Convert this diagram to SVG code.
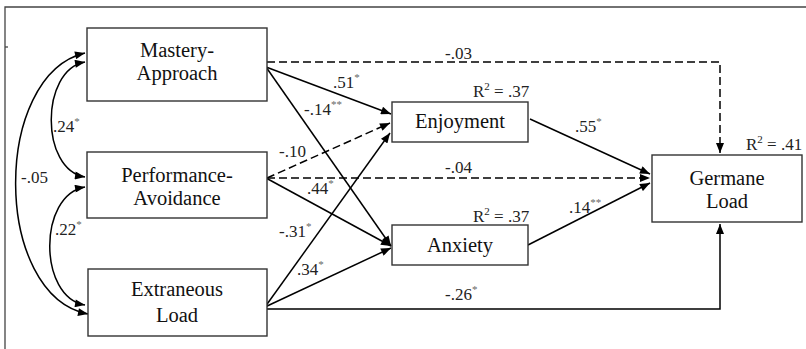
<svg xmlns="http://www.w3.org/2000/svg" width="806" height="349" viewBox="0 0 806 349">
<style>
.ff{font-family:'Liberation Serif',serif}
.box{fill:#fff;stroke:#333;stroke-width:1.4}
.nt{font-size:20.5px;fill:#111;text-anchor:middle}
.lb{font-size:17px;fill:#222}
.sup{font-size:11px;fill:#666}
.r2{font-size:11px}
.ln{fill:none;stroke:#000;stroke-width:1.5}
.ds{fill:none;stroke:#000;stroke-width:1.5;stroke-dasharray:8 4}
</style>
<defs>
<marker id="ah" viewBox="0 0 10 8" refX="10" refY="4" markerWidth="11" markerHeight="8" markerUnits="userSpaceOnUse" orient="auto-start-reverse">
<path d="M0,0 L10,4 L0,8 z" fill="#000"/>
</marker>
</defs>
<rect width="806" height="349" fill="#fff"/>
<g id="frame" fill="none" stroke="#444" stroke-width="1.3">
<path d="M5,349 V7 H806"/>
<path d="M5,47 H8"/>
</g>
<g id="connectors">
<path class="ds" d="M267,62 H720 V153" marker-end="url(#ah)"/>
<path class="ln" d="M266,67 L391,114" marker-end="url(#ah)"/>
<path class="ln" d="M266,67 L391,246" marker-end="url(#ah)"/>
<path class="ds" d="M267,178 L390,123" marker-end="url(#ah)"/>
<path class="ds" d="M267,178 H650" marker-end="url(#ah)"/>
<path class="ln" d="M266,178 L391,246" marker-end="url(#ah)"/>
<path class="ln" d="M265,307 L390,133" marker-end="url(#ah)"/>
<path class="ln" d="M265,307 L391,248" marker-end="url(#ah)"/>
<path class="ln" d="M265,309 H720 V224" marker-end="url(#ah)"/>
<path class="ln" d="M530,119 L650,174" marker-end="url(#ah)"/>
<path class="ln" d="M528,245 L650,183" marker-end="url(#ah)"/>
<path class="ln" d="M85,62 C40,70 40,170 85,177" marker-start="url(#ah)" marker-end="url(#ah)"/>
<path class="ln" d="M85,187 C38,195 38,297 85,305" marker-start="url(#ah)" marker-end="url(#ah)"/>
<path class="ln" d="M85,53 C-8,75 -8,295 88,314" marker-start="url(#ah)" marker-end="url(#ah)"/>
</g>
<g id="labels" font-family="'Liberation Serif', serif">
<text class="lb ff" x="445" y="59">-.03</text>
<text class="lb ff" x="333" y="88">.51<tspan class="sup" dy="-7">*</tspan></text>
<text class="lb ff" x="304" y="115">-.14<tspan class="sup" dy="-7">**</tspan></text>
<text class="lb ff" x="279" y="157">-.10</text>
<text class="lb ff" x="445" y="173">-.04</text>
<text class="lb ff" x="307" y="194">.44<tspan class="sup" dy="-7">*</tspan></text>
<text class="lb ff" x="279" y="237">-.31<tspan class="sup" dy="-7">*</tspan></text>
<text class="lb ff" x="297" y="275">.34<tspan class="sup" dy="-7">*</tspan></text>
<text class="lb ff" x="445" y="300">-.26<tspan class="sup" dy="-7">*</tspan></text>
<text class="lb ff" x="575" y="132">.55<tspan class="sup" dy="-7">*</tspan></text>
<text class="lb ff" x="569" y="213">.14<tspan class="sup" dy="-7">**</tspan></text>
<text class="lb ff" x="53" y="132">.24<tspan class="sup" dy="-7">*</tspan></text>
<text class="lb ff" x="55" y="235">.22<tspan class="sup" dy="-7">*</tspan></text>
<text class="lb ff" x="21" y="183">-.05</text>
<text class="lb ff" x="473" y="97">R<tspan class="r2" dy="-7">2</tspan><tspan dy="7"> = .37</tspan></text>
<text class="lb ff" x="473" y="222">R<tspan class="r2" dy="-7">2</tspan><tspan dy="7"> = .37</tspan></text>
<text class="lb ff" x="746" y="150">R<tspan class="r2" dy="-7">2</tspan><tspan dy="7"> = .41</tspan></text>
</g>
<g id="mastery" font-family="'Liberation Serif', serif">
<rect class="box" x="87" y="28" width="180" height="73"/>
<text class="nt ff" x="177" y="57">Mastery-</text>
<text class="nt ff" x="177" y="80">Approach</text>
</g>
<g id="performance" font-family="'Liberation Serif', serif">
<rect class="box" x="87" y="152" width="180" height="66"/>
<text class="nt ff" x="177" y="182">Performance-</text>
<text class="nt ff" x="177" y="205">Avoidance</text>
</g>
<g id="extraneous" font-family="'Liberation Serif', serif">
<rect class="box" x="88" y="269" width="179" height="67"/>
<text class="nt ff" x="177" y="296">Extraneous</text>
<text class="nt ff" x="177" y="322">Load</text>
</g>
<g id="enjoyment" font-family="'Liberation Serif', serif">
<rect class="box" x="392" y="102" width="136" height="40"/>
<text class="nt ff" x="460" y="128">Enjoyment</text>
</g>
<g id="anxiety" font-family="'Liberation Serif', serif">
<rect class="box" x="392" y="225" width="136" height="40"/>
<text class="nt ff" x="460" y="252">Anxiety</text>
</g>
<g id="germane" font-family="'Liberation Serif', serif">
<rect class="box" x="652" y="155" width="150" height="67"/>
<text class="nt ff" x="727" y="185">Germane</text>
<text class="nt ff" x="727" y="208">Load</text>
</g>
</svg>
